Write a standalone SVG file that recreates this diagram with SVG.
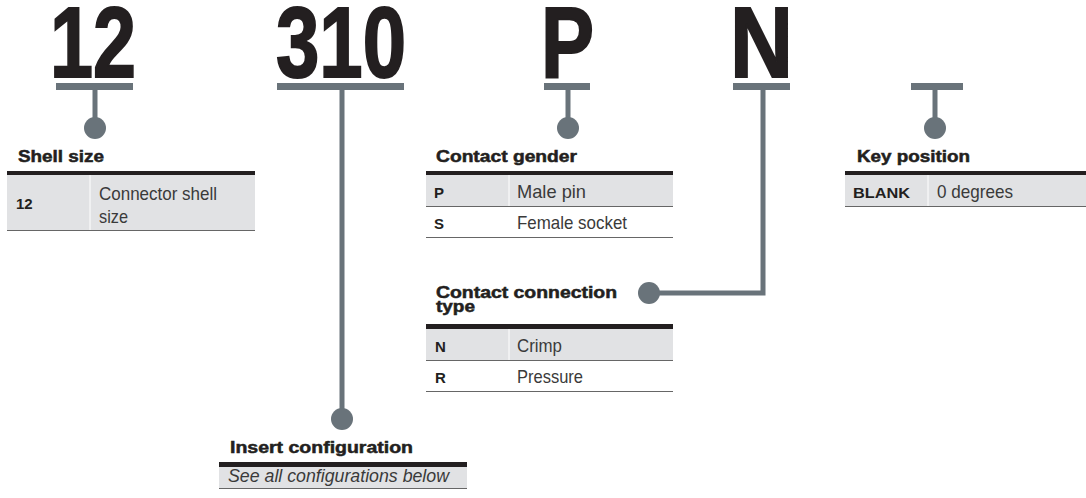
<svg xmlns="http://www.w3.org/2000/svg" width="1086" height="498" viewBox="0 0 1086 498">
<style>
.big{font-family:"Liberation Sans",Arial,sans-serif;font-weight:bold;font-size:100px;fill:#231f20;stroke:#231f20;stroke-width:2}
.title{font-family:"Liberation Sans",Arial,sans-serif;font-weight:bold;font-size:16px;fill:#231f20;stroke:#231f20;stroke-width:0.5}
.key{font-family:"Liberation Sans",Arial,sans-serif;font-weight:bold;font-size:15px;fill:#231f20}
.val{font-family:"Liberation Sans",Arial,sans-serif;font-size:18.5px;fill:#3a3a3a}
.ital{font-family:"Liberation Sans",Arial,sans-serif;font-style:italic;font-size:18px;fill:#3a3a3a}
.bar{fill:#69737a}
.stem{stroke:#69737a;stroke-width:5;fill:none}
.dot{fill:#69737a}
.thick{fill:#231f20}
.row{fill:#e1e2e4}
.rule{stroke:#666;stroke-width:1}
.sep{stroke:#ffffff;stroke-width:1}
</style>
<g id="codes">
<text class="big" x="50" y="77" textLength="86" lengthAdjust="spacingAndGlyphs">12</text>
<text class="big" x="276" y="77" textLength="130" lengthAdjust="spacingAndGlyphs">310</text>
<text class="big" x="541" y="77" textLength="53" lengthAdjust="spacingAndGlyphs">P</text>
<text class="big" x="730" y="77" textLength="63" lengthAdjust="spacingAndGlyphs">N</text>
</g>
<g id="connectors">
<rect class="bar" x="56" y="83" width="77" height="7"/>
<line class="stem" x1="95" y1="90" x2="95" y2="128"/>
<circle class="dot" cx="95" cy="128" r="11"/>
<rect class="bar" x="277" y="83" width="127" height="7"/>
<line class="stem" x1="342" y1="90" x2="342" y2="419"/>
<circle class="dot" cx="342" cy="419" r="11"/>
<rect class="bar" x="544" y="83" width="46" height="7"/>
<line class="stem" x1="568" y1="90" x2="568" y2="128"/>
<circle class="dot" cx="568" cy="128" r="11"/>
<rect class="bar" x="733" y="83" width="57" height="7"/>
<polyline class="stem" points="763,90 763,293 649,293"/>
<circle class="dot" cx="649" cy="293" r="11"/>
<rect class="bar" x="911" y="83" width="52" height="7"/>
<line class="stem" x1="935" y1="90" x2="935" y2="128"/>
<circle class="dot" cx="935" cy="128" r="11"/>
</g>
<g id="shell-size">
<text class="title" x="18" y="162" textLength="86" lengthAdjust="spacingAndGlyphs">Shell size</text>
<rect class="thick" x="7" y="171" width="248" height="4"/>
<rect class="row" x="7" y="175" width="248" height="55"/>
<line class="sep" x1="90" y1="175" x2="90" y2="230"/>
<line class="rule" x1="7" y1="230.5" x2="255" y2="230.5"/>
<text class="key" x="16" y="209">12</text>
<text class="val" x="99" y="200" textLength="118" lengthAdjust="spacingAndGlyphs">Connector shell</text>
<text class="val" x="99" y="223" textLength="29" lengthAdjust="spacingAndGlyphs">size</text>
</g>
<g id="contact-gender">
<text class="title" x="436" y="162" textLength="141" lengthAdjust="spacingAndGlyphs">Contact gender</text>
<rect class="thick" x="426" y="171" width="247" height="4"/>
<rect class="row" x="426" y="175" width="247" height="31"/>
<line class="sep" x1="509" y1="175" x2="509" y2="206"/>
<line class="rule" x1="426" y1="206.5" x2="673" y2="206.5"/>
<line class="rule" x1="426" y1="237.5" x2="673" y2="237.5"/>
<text class="key" x="434" y="198">P</text>
<text class="val" x="517" y="198" textLength="69" lengthAdjust="spacingAndGlyphs">Male pin</text>
<text class="key" x="434" y="229">S</text>
<text class="val" x="517" y="229" textLength="110" lengthAdjust="spacingAndGlyphs">Female socket</text>
</g>
<g id="contact-connection-type">
<text class="title"><tspan x="436" y="298" textLength="181" lengthAdjust="spacingAndGlyphs">Contact connection</tspan><tspan x="436" y="312" textLength="39" lengthAdjust="spacingAndGlyphs">type</tspan></text>
<rect class="thick" x="426" y="324" width="247" height="5"/>
<rect class="row" x="426" y="329" width="247" height="31"/>
<line class="sep" x1="509" y1="329" x2="509" y2="360"/>
<line class="rule" x1="426" y1="360.5" x2="673" y2="360.5"/>
<line class="rule" x1="426" y1="391.5" x2="673" y2="391.5"/>
<text class="key" x="435" y="352">N</text>
<text class="val" x="517" y="352" textLength="45" lengthAdjust="spacingAndGlyphs">Crimp</text>
<text class="key" x="435" y="383">R</text>
<text class="val" x="517" y="383" textLength="66" lengthAdjust="spacingAndGlyphs">Pressure</text>
</g>
<g id="key-position">
<text class="title" x="857" y="162" textLength="113" lengthAdjust="spacingAndGlyphs">Key position</text>
<rect class="thick" x="845" y="171" width="241" height="4"/>
<rect class="row" x="845" y="175" width="241" height="31"/>
<line class="sep" x1="928" y1="175" x2="928" y2="206"/>
<line class="rule" x1="845" y1="206.5" x2="1086" y2="206.5"/>
<text class="key" x="853" y="198" textLength="57" lengthAdjust="spacingAndGlyphs">BLANK</text>
<text class="val" x="937" y="198" textLength="76" lengthAdjust="spacingAndGlyphs">0 degrees</text>
</g>
<g id="insert-configuration">
<text class="title" x="230" y="453" textLength="183" lengthAdjust="spacingAndGlyphs">Insert configuration</text>
<rect class="thick" x="219" y="462" width="248" height="5"/>
<rect class="row" x="219" y="467" width="248" height="21"/>
<line class="rule" x1="219" y1="488.5" x2="467" y2="488.5"/>
<text class="ital" x="228" y="482" textLength="221" lengthAdjust="spacingAndGlyphs">See all configurations below</text>
</g>
</svg>
